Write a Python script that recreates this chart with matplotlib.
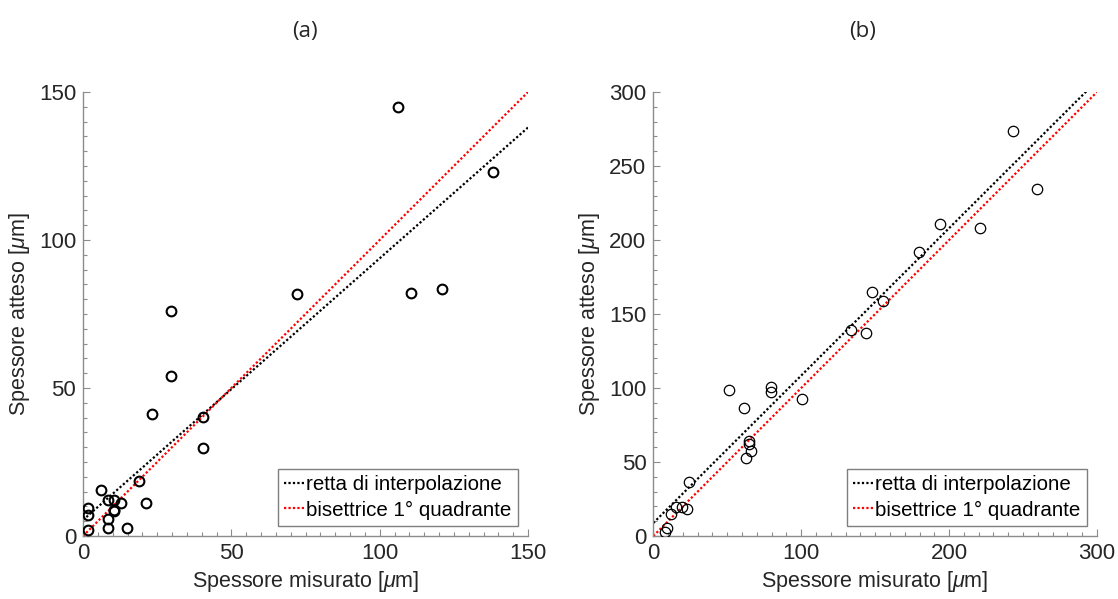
import matplotlib
matplotlib.use("Agg")
import matplotlib.pyplot as plt
import numpy as np
from matplotlib.ticker import MultipleLocator

plt.rcParams['font.family'] = ['Liberation Sans', 'DejaVu Sans']
plt.rcParams['mathtext.fontset'] = 'custom'
plt.rcParams['mathtext.it'] = 'Liberation Sans:italic'
plt.rcParams['mathtext.rm'] = 'Liberation Sans'

# Panel (a): measured vs expected thickness [um]
a_misurato = [106.3, 138.1, 72.0, 110.4, 121.1, 29.5, 29.5, 23.3, 40.3, 40.3,
              19.0, 6.1, 8.3, 10.3, 12.7, 21.1, 10.3, 10.3, 8.3, 8.3, 14.7,
              1.8, 1.8, 1.8]
a_atteso = [145.0, 123.0, 81.9, 82.2, 83.5, 76.1, 54.2, 41.3, 40.2, 29.6,
            18.6, 15.5, 12.2, 12.2, 11.3, 11.0, 8.3, 8.8, 5.8, 2.8, 2.8,
            9.3, 7.0, 2.1]
a_fit = [0.884, 5.4]      # slope, intercept
a_lim = 150

# Panel (b)
b_misurato = [243.2, 259.6, 193.8, 221.1, 179.4, 148.1, 155.5, 133.7, 143.6,
              51.2, 79.6, 79.6, 100.8, 61.3, 64.9, 64.9, 66.1, 62.9, 24.1,
              15.1, 19.6, 22.6, 12.2, 9.5, 7.7]
b_atteso = [273.6, 234.2, 210.8, 207.8, 191.8, 165.0, 158.9, 138.9, 137.5,
            98.7, 100.5, 97.0, 92.4, 86.5, 64.0, 62.0, 57.5, 53.0, 36.5,
            19.4, 19.4, 18.0, 15.1, 5.7, 2.5]
b_fit = [0.996, 8.8]
b_lim = 300

labels = ['retta di interpolazione', 'bisettrice 1° quadrante']
titles = ['(a)', '(b)']

fig = plt.figure(figsize=(11.18, 5.99), dpi=100)
ax_a = fig.add_axes([83/1118, 1-536/599, 445/1118, 444/599])
ax_b = fig.add_axes([653.3/1118, 1-536/599, 443.7/1118, 444/599])

text_col = '#262626'
spine_col = '#8c8c8c'
fs = 15.5

# (axes, x, y, fit, limit, x major, y major, x minor, y minor, edge width, size)
panels = [
    (ax_a, a_misurato, a_atteso, a_fit, a_lim, 50, 50, 5, 5, 1.5, 7.0),
    (ax_b, b_misurato, b_atteso, b_fit, b_lim, 100, 50, 10, 10, 0.9, 7.5),
]

for ax, xm, ya, fit, lim, majx, majy, minx, miny, mew, ms in panels:
    ax.plot(xm, ya, 'o', mfc='none', mec='black', mew=mew, ms=ms,
            linestyle='none', zorder=3)
    xx = np.array([0, lim])
    ax.plot(xx, fit[0] * xx + fit[1], color='black', linestyle=(0, (1, 1)),
            lw=1.6, label=labels[0])
    ax.plot(xx, xx, color='red', linestyle=(0, (1, 1)), lw=1.6,
            label=labels[1])
    ax.set_xlim(0, lim)
    ax.set_ylim(0, lim)
    ax.xaxis.set_major_locator(MultipleLocator(majx))
    ax.yaxis.set_major_locator(MultipleLocator(majy))
    ax.xaxis.set_minor_locator(MultipleLocator(minx))
    ax.yaxis.set_minor_locator(MultipleLocator(miny))
    for s in ['top', 'right']:
        ax.spines[s].set_visible(False)
    for s in ['left', 'bottom']:
        ax.spines[s].set_color(spine_col)
        ax.spines[s].set_linewidth(1.0)
    ax.tick_params(which='both', direction='in', colors=spine_col,
                   labelcolor=text_col, labelsize=16)
    ax.tick_params(which='major', length=5, width=0.8, pad=5)
    ax.tick_params(which='minor', length=3, width=0.8)
    ax.set_xlabel(r'Spessore misurato [$\mu$m]', fontsize=fs,
                  color=text_col, labelpad=4)
    ax.set_ylabel(r'Spessore atteso [$\mu$m]', fontsize=fs,
                  color=text_col, labelpad=5)
    leg = ax.legend(loc='lower right', fontsize=14.8, handlelength=1.0,
                    handletextpad=0.1, borderpad=0.3, labelspacing=0.3,
                    fancybox=False, framealpha=1, borderaxespad=0.5)
    leg.get_frame().set_edgecolor('#7f7f7f')
    leg.get_frame().set_linewidth(1.0)

fig.text(305/1118, 1-31/599, titles[0], ha='center', va='center',
         fontsize=16, family='Open Sans', color=text_col)
fig.text(863/1118, 1-31/599, titles[1], ha='center', va='center',
         fontsize=16, family='Open Sans', color=text_col)

fig.savefig('out.png', dpi=100)
